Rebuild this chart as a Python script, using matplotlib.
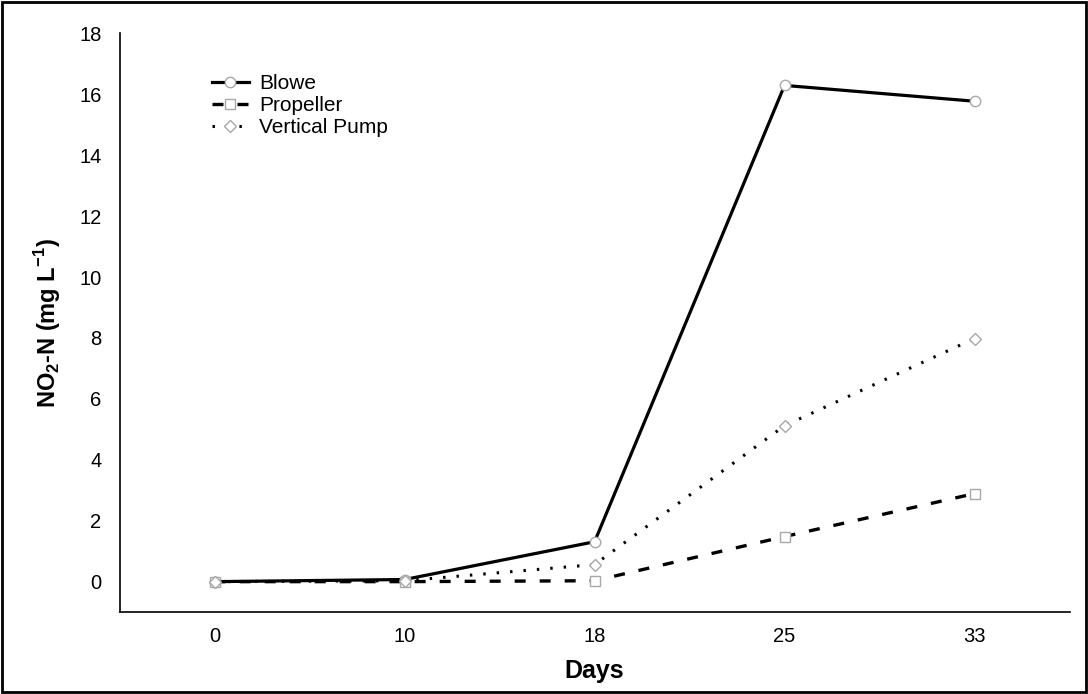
import matplotlib
matplotlib.use("Agg")
import matplotlib.pyplot as plt
from matplotlib.patches import Rectangle

plt.rcParams["font.family"] = ["Liberation Sans", "DejaVu Sans"]
plt.rcParams["mathtext.fontset"] = "custom"
plt.rcParams["mathtext.rm"] = "Liberation Sans"
plt.rcParams["mathtext.bf"] = "Liberation Sans:bold"

days = ["0", "10", "18", "25", "33"]
blowe = [0.0, 0.07, 1.31, 16.29, 15.77]
propeller = [0.0, 0.0, 0.03, 1.48, 2.89]
vertical_pump = [0.0, 0.03, 0.56, 5.12, 7.98]
y_ticks = [0, 2, 4, 6, 8, 10, 12, 14, 16, 18]

fig = plt.figure(figsize=(10.88, 6.94), dpi=100)
ax = fig.add_axes([0.110, 0.118, 0.873, 0.834])

x = list(range(len(days)))
mk = dict(markerfacecolor="white", markeredgecolor="#a8a8a8", markeredgewidth=1.0, markersize=7.5)
ax.plot(x, blowe, color="black", linestyle="-", linewidth=2.3, marker="o", label="Blowe", **mk)
ax.plot(x, propeller, color="black", linestyle=(0, (3.3, 4.2)), linewidth=2.4, marker="s",
        label="Propeller", **mk)
ax.plot(x, vertical_pump, color="black", linestyle=(0, (0.8, 3.6)), linewidth=2.2, marker="D",
        label="Vertical Pump", **{**mk, "markersize": 6.0})

ax.set_xlim(-0.5, 4.5)
ax.set_ylim(-1, 18)
ax.set_xticks(x)
ax.set_xticklabels(days)
ax.set_yticks(y_ticks)
ax.tick_params(axis="both", length=0, labelsize=14.5)
ax.tick_params(axis="y", pad=13)
ax.tick_params(axis="x", pad=11)
for s in ["top", "right"]:
    ax.spines[s].set_visible(False)
for s in ["left", "bottom"]:
    ax.spines[s].set_linewidth(1.2)

ax.set_xlabel("Days", fontsize=18, fontweight="bold", labelpad=9)
ax.set_ylabel(r"NO$_{\mathbf{2}}$-N (mg L$^{\mathbf{-1}}$)", fontsize=17, fontweight="bold", labelpad=12)

leg = ax.legend(loc="upper left", bbox_to_anchor=(0.077, 0.962), frameon=False, fontsize=15,
                handlelength=1.8, handletextpad=0.5, labelspacing=0.15)

fig.add_artist(Rectangle((0.002, 0.003), 0.996, 0.994, transform=fig.transFigure,
                         fill=False, edgecolor="black", linewidth=2))

fig.savefig("out.png", dpi=100)
